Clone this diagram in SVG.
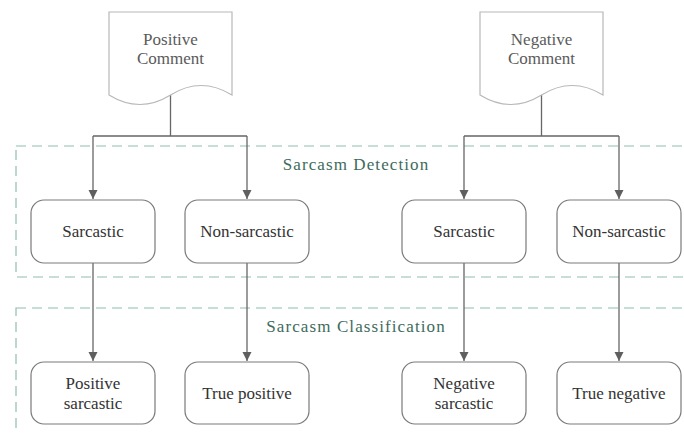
<svg xmlns="http://www.w3.org/2000/svg" width="684" height="434" viewBox="0 0 684 434">
<style>
.doc{fill:#fff;stroke:#b8b8b8;stroke-width:1.2}
.doct{font-family:"Liberation Serif","Times New Roman",serif;font-size:17px;fill:#5a5a5a;text-anchor:middle}
.box{fill:#fff;stroke:#7a7a7a;stroke-width:1.2}
.bt{font-family:"Liberation Serif","Times New Roman",serif;font-size:17px;fill:#333;text-anchor:middle}
.sec{fill:none;stroke:#8fbdb0;stroke-width:1.2;stroke-dasharray:10 6}
.st{font-family:"Liberation Serif","Times New Roman",serif;font-size:17px;fill:#3e6b5d;text-anchor:middle;letter-spacing:1.1px}
.conn path{fill:none;stroke:#666;stroke-width:1.3}
</style>
<defs>
<marker id="arr" markerWidth="10" markerHeight="10" refX="9" refY="5" orient="auto" markerUnits="userSpaceOnUse">
<path d="M0,0.5 L9,5 L0,9.5 Z" fill="#5f5f5f"/>
</marker>
</defs>
<g id="sections">
<rect class="sec" x="16" y="146" width="700" height="131"/>
<text class="st" x="356" y="170">Sarcasm Detection</text>
<rect class="sec" x="16" y="308" width="700" height="160"/>
<text class="st" x="356" y="332">Sarcasm Classification</text>
</g>
<g class="conn" id="connectors">
<path d="M170.5,95 V136 M93,136 H247 M541.5,95 V136 M464,136 H619"/>
<path d="M93,136 V199" marker-end="url(#arr)"/>
<path d="M247,136 V199" marker-end="url(#arr)"/>
<path d="M464,136 V199" marker-end="url(#arr)"/>
<path d="M619,136 V199" marker-end="url(#arr)"/>
<path d="M93,263 V361" marker-end="url(#arr)"/>
<path d="M247,263 V361" marker-end="url(#arr)"/>
<path d="M464,263 V361" marker-end="url(#arr)"/>
<path d="M619,263 V361" marker-end="url(#arr)"/>
</g>
<g id="positive-comment">
<path class="doc" d="M109,12 H232 V95 Q201,76 170.5,95 Q140,114 109,95 Z"/>
<text class="doct" x="170.5" y="45">Positive</text>
<text class="doct" x="170.5" y="64">Comment</text>
</g>
<g id="negative-comment">
<path class="doc" d="M480,12 H603 V95 Q572,76 541.5,95 Q511,114 480,95 Z"/>
<text class="doct" x="541.5" y="45">Negative</text>
<text class="doct" x="541.5" y="64">Comment</text>
</g>
<g id="pos-sarcastic">
<rect class="box" x="31" y="200" width="124" height="63" rx="13"/>
<text class="bt" x="93" y="237">Sarcastic</text>
</g>
<g id="pos-nonsarcastic">
<rect class="box" x="185" y="200" width="124" height="63" rx="13"/>
<text class="bt" x="247" y="237">Non-sarcastic</text>
</g>
<g id="neg-sarcastic">
<rect class="box" x="402" y="200" width="124" height="63" rx="13"/>
<text class="bt" x="464" y="237">Sarcastic</text>
</g>
<g id="neg-nonsarcastic">
<rect class="box" x="557" y="200" width="124" height="63" rx="13"/>
<text class="bt" x="619" y="237">Non-sarcastic</text>
</g>
<g id="positive-sarcastic">
<rect class="box" x="31" y="362" width="124" height="62" rx="13"/>
<text class="bt" x="93" y="389">Positive</text>
<text class="bt" x="93" y="409">sarcastic</text>
</g>
<g id="true-positive">
<rect class="box" x="185" y="362" width="124" height="62" rx="13"/>
<text class="bt" x="247" y="399">True positive</text>
</g>
<g id="negative-sarcastic">
<rect class="box" x="402" y="362" width="124" height="62" rx="13"/>
<text class="bt" x="464" y="389">Negative</text>
<text class="bt" x="464" y="409">sarcastic</text>
</g>
<g id="true-negative">
<rect class="box" x="557" y="362" width="124" height="62" rx="13"/>
<text class="bt" x="619" y="399">True negative</text>
</g>
</svg>
